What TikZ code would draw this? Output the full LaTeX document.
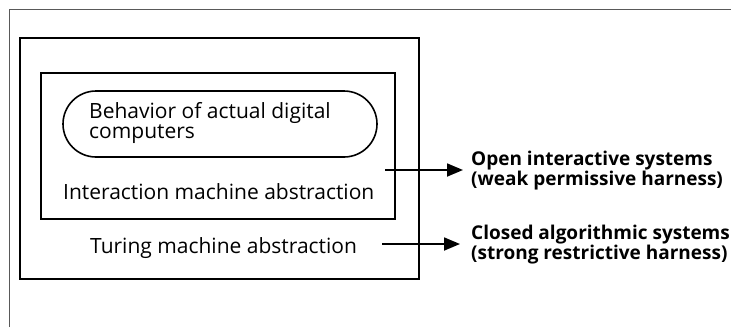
\documentclass[tikz,border=0pt]{standalone}
\usepackage{fontspec}
\setmainfont{Open Sans}
\usetikzlibrary{arrows.meta}
\begin{document}
\begin{tikzpicture}[x=1pt,y=-1pt,
  box/.style={draw, line width=2.2pt, inner sep=0pt},
  lbl/.style={inner sep=0pt, anchor=base west, font=\fontsize{21}{21}\selectfont},
  rlbl/.style={inner sep=0pt, anchor=north west, align=left, font=\fontsize{19}{18.5}\selectfont\bfseries},
  conn/.style={line width=1.8pt, -{Triangle[length=16pt,width=13pt]}}]
\useasboundingbox (0,0) rectangle (731,327);
\coordinate (f1) at (9,9);
\coordinate (f2) at (9,327);
\coordinate (f3) at (731,9);
\draw[gray!70!black, line width=1pt] (f2) -- (f1) -- (f3);
\node[box, minimum width=399pt, minimum height=241pt] (tm) at (219.5,158.5) {};
\node[box, minimum width=354pt, minimum height=146pt] (im) at (218,146) {};
\node[draw, line width=1.6pt, rounded corners=33pt, minimum width=314pt, minimum height=66pt, inner sep=0pt] (pill) at (220,124) {};
\node[lbl, align=left, anchor=north west, font=\fontsize{21}{20}\selectfont] (beh) at (89,102) {Behavior of actual digital\\computers};
\node[lbl] (imt) at (63,199) {Interaction machine abstraction};
\node[lbl] (tmt) at (90,253) {Turing machine abstraction};
\node[rlbl] (open) at (471,151) {Open interactive systems\\(weak permissive harness)};
\node[rlbl] (closed) at (471,225) {Closed algorithmic systems\\(strong restrictive harness)};
\coordinate (a1) at (385,170);
\coordinate (a2) at (382,244);
\draw[conn, shorten >=8pt] (a1) -- (a1 -| open.west);
\draw[conn, shorten >=11pt] (a2) -- (a2 -| closed.west);
\end{tikzpicture}
\end{document}
